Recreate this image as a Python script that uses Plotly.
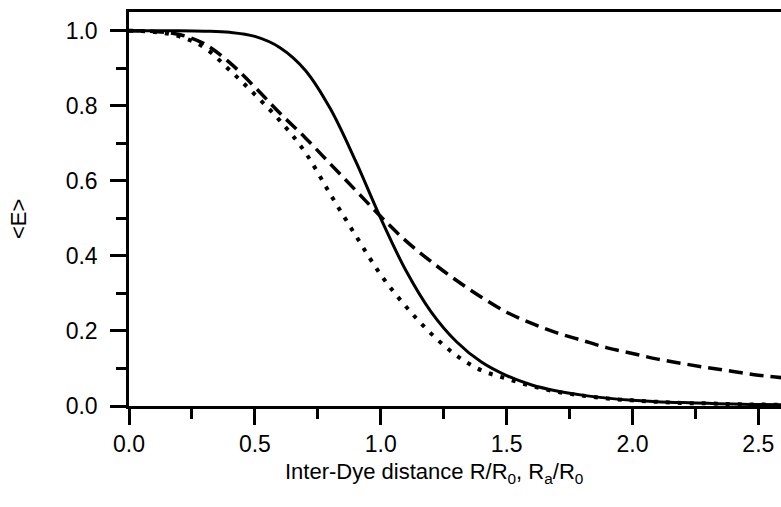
import plotly.graph_objects as go

# Distance values R/R0 (x)
r_values = [0.0, 0.1, 0.2, 0.3, 0.4, 0.5, 0.6, 0.7, 0.8, 0.9, 1.0, 1.1, 1.2, 1.3,
            1.4, 1.5, 1.6, 1.7, 1.8, 1.9, 2.0, 2.1, 2.2, 2.3, 2.4, 2.5, 2.6]

# Solid curve
e_solid = [1.0, 1.0, 1.0, 0.999, 0.996, 0.985, 0.955, 0.895, 0.792, 0.653, 0.5, 0.361,
           0.251, 0.172, 0.117, 0.081, 0.056, 0.040, 0.029, 0.021, 0.015, 0.011,
           0.009, 0.007, 0.005, 0.004, 0.003]

# Dashed curve
e_dashed = [1.0, 0.998, 0.99, 0.965, 0.915, 0.85, 0.78, 0.715, 0.645, 0.575, 0.505,
            0.44, 0.385, 0.335, 0.29, 0.25, 0.22, 0.195, 0.175, 0.155, 0.14, 0.125,
            0.113, 0.102, 0.092, 0.082, 0.075]

# Dotted curve
e_dotted = [1.0, 0.997, 0.985, 0.955, 0.895, 0.83, 0.76, 0.676, 0.564, 0.455, 0.35,
            0.265, 0.193, 0.135, 0.095, 0.073, 0.053, 0.038, 0.028, 0.02, 0.015,
            0.011, 0.008, 0.007, 0.005, 0.004, 0.003]

x_ticks = [0.0, 0.5, 1.0, 1.5, 2.0, 2.5]
x_ticklabels = ["0.0", "0.5", "1.0", "1.5", "2.0", "2.5"]
y_ticks = [0.0, 0.2, 0.4, 0.6, 0.8, 1.0]
y_ticklabels = ["0.0", "0.2", "0.4", "0.6", "0.8", "1.0"]

x_title = "Inter-Dye distance R/R<sub>0</sub>, R<sub>a</sub>/R<sub>0</sub>"
y_title = "&lt;E&gt;"

fig = go.Figure()
fig.add_trace(go.Scatter(x=r_values, y=e_dotted, mode="lines", line_shape="spline",
                         line=dict(color="black", width=4, dash="4px,8px"),
                         showlegend=False))
fig.add_trace(go.Scatter(x=r_values, y=e_dashed, mode="lines", line_shape="spline",
                         line=dict(color="black", width=3.5, dash="14px,7px"),
                         showlegend=False))
fig.add_trace(go.Scatter(x=r_values, y=e_solid, mode="lines", line_shape="spline",
                         line=dict(color="black", width=3),
                         showlegend=False))

font_family = "Liberation Sans, Arial, sans-serif"
fig.update_layout(
    width=781, height=507,
    margin=dict(l=129, r=0, t=12, b=101),
    paper_bgcolor="white", plot_bgcolor="white",
    font=dict(family=font_family, color="black", size=22),
    xaxis=dict(
        range=[0, 2.59], tickvals=x_ticks, ticktext=x_ticklabels,
        showgrid=False, zeroline=False,
        showline=True, linecolor="black", linewidth=2.5, mirror=True,
        ticks="outside", ticklen=16, tickwidth=2.5, tickcolor="black",
        minor=dict(dtick=0.25, tick0=0, ticks="outside", ticklen=10, tickwidth=2.5,
                   tickcolor="black", showgrid=False),
        tickfont=dict(size=23), ticklabelstandoff=0,
    ),
    yaxis=dict(
        range=[0, 1.05], tickvals=y_ticks, ticktext=y_ticklabels,
        showgrid=False, zeroline=False,
        showline=True, linecolor="black", linewidth=2.5, mirror=False,
        ticks="outside", ticklen=16, tickwidth=2.5, tickcolor="black",
        minor=dict(dtick=0.1, tick0=0, ticks="outside", ticklen=10, tickwidth=2.5,
                   tickcolor="black", showgrid=False),
        tickfont=dict(size=23), ticklabelstandoff=8,
    ),
    annotations=[
        dict(text=x_title, xref="paper", yref="paper",
             x=(434 - 129) / 652, y=-(473 - 406) / 394,
             xanchor="center", yanchor="middle", showarrow=False,
             font=dict(size=22)),
        dict(text=y_title, xref="paper", yref="paper",
             x=-(129 - 18) / 652, y=(406 - 219) / 394, textangle=-90,
             xanchor="center", yanchor="middle", showarrow=False,
             font=dict(size=22)),
    ],
)

fig.write_html("out.html")
